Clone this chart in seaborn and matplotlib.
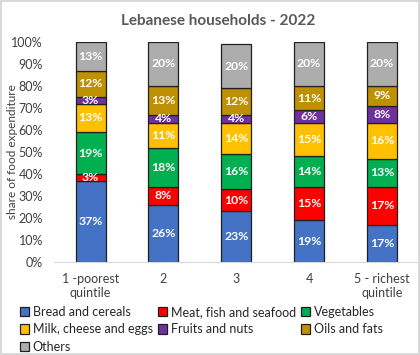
import numpy as np
import pandas as pd
import matplotlib
matplotlib.use("Agg")
import matplotlib.pyplot as plt
import seaborn as sns

quintiles = ["1 -poorest\nquintile", "2", "3", "4", "5 - richest\nquintile"]
categories = ["Bread and cereals", "Meat, fish and seafood", "Vegetables",
              "Milk, cheese and eggs", "Fruits and nuts", "Oils and fats", "Others"]
bread = [37, 26, 23, 19, 17]
meat = [3, 8, 10, 15, 17]
veg = [19, 18, 16, 14, 13]
milk = [13, 11, 14, 15, 16]
fruits = [3, 4, 4, 6, 8]
oils = [12, 13, 12, 11, 9]
others = [13, 20, 20, 20, 20]
colors = ["#4472C4", "#FF0000", "#00B050", "#FFC000", "#7030A0", "#BF9000", "#ADADAD"]

sns.set_style("white")
plt.rcParams['font.family'] = ['Lato', 'DejaVu Sans']

fig = plt.figure(figsize=(4.2, 3.55), dpi=100)
fig.patch.set_edgecolor("#D9D9D9")
fig.patch.set_linewidth(1.5)
ax = fig.add_axes([0.129, 0.262, 0.867, 0.620])

series = [bread, meat, veg, milk, fruits, oils, others]
bottom = np.zeros(len(quintiles))
for name, vals, col in zip(categories, series, colors):
    df = pd.DataFrame({"q": quintiles, "v": vals})
    sns.barplot(data=df, x="q", y="v", bottom=bottom, color=col, width=0.41,
                edgecolor="#202020", linewidth=0.9, ax=ax, label=name, saturation=1)
    for i, v in enumerate(vals):
        ax.text(i, bottom[i] + v / 2, f"{v}%", ha="center", va="center",
                color="white", fontsize=8.8, fontweight="bold")
    bottom += np.array(vals)

ax.set_ylim(0, 100)
ax.set_xlim(-0.5, 4.5)
ax.set_yticks(range(0, 101, 10))
ax.set_yticklabels([f"{t}%" for t in range(0, 101, 10)], fontsize=9, color="#404040")
ax.tick_params(axis="x", labelsize=9, colors="#404040", length=0, pad=8)
ax.tick_params(axis="y", length=0, pad=8)
ax.set_xlabel("")
ax.set_ylabel("share of food expenditure", fontsize=8.5, color="#404040")
ax.yaxis.set_label_coords(-0.1, 0.5)
for s in ["top", "right", "left"]:
    ax.spines[s].set_visible(False)
ax.spines["bottom"].set_color("#D9D9D9")
fig.suptitle("Lebanese households - 2022", x=0.52, y=0.96, fontsize=11,
             fontweight="bold", color="#595959")

handles, labels = ax.get_legend_handles_labels()
ax.legend_.remove()
order = [0, 3, 6, 1, 4, 2, 5]
fig.legend([handles[i] for i in order], [labels[i] for i in order],
           loc="lower left", bbox_to_anchor=(0.02, -0.025), ncol=3,
           frameon=False, fontsize=9, handlelength=0.75, handleheight=0.75,
           handletextpad=0.3, columnspacing=0.4, labelspacing=0.42)

fig.savefig("out.png", dpi=100)
